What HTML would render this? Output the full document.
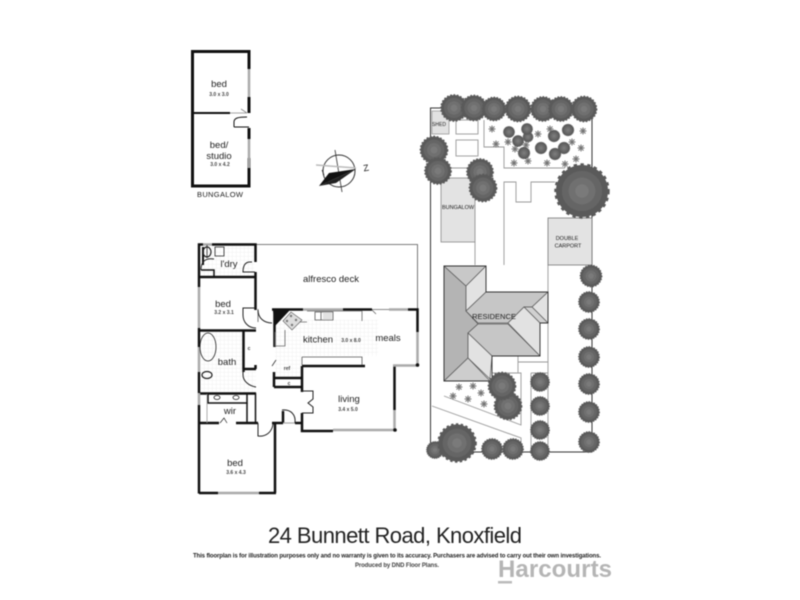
<!DOCTYPE html>
<html>
<head>
<meta charset="utf-8">
<style>
html,body{margin:0;padding:0;background:#fff;width:800px;height:600px;overflow:hidden}
svg{display:block;filter:blur(.5px)}
text{font-family:"Liberation Sans",sans-serif;fill:#222;text-anchor:middle}
.d{font-size:5px;font-weight:bold;fill:#444}
.l{font-size:9.5px}
</style>
</head>
<body>
<svg width="800" height="600" viewBox="0 0 800 600" xmlns="http://www.w3.org/2000/svg">
<defs>
<pattern id="tile" width="4" height="4" patternUnits="userSpaceOnUse"><path d="M4 0H0V4" fill="none" stroke="#ddd" stroke-width=".4"/></pattern>
<g id="t">
<circle r=".93" fill="#5a5a5a"/>
<circle r=".93" fill="none" stroke="#5a5a5a" stroke-width=".12" stroke-dasharray=".12 .12"/>
<circle r=".72" fill="#656565"/>
<circle r=".48" fill="#707070"/>
<circle r=".24" fill="#7a7a7a"/>
</g>
<path id="st" d="M-3.500 0H3.500M0-3.500V3.500M-2.500-2.500L2.500 2.500M-2.500 2.500L2.500-2.500" stroke="#777" stroke-width="1.100" fill="none"/>
</defs>

<!-- bungalow -->
<g fill="none" stroke="#111">
<path d="M249 69V51.500H192.500V186H249V158" stroke-width="3"/>
<path d="M249 97V113" stroke-width="3"/>
<path d="M249 128V139" stroke-width="3"/>
<path d="M193 113H230" stroke-width="2"/>
<path d="M249 69V97M249 139V168" stroke="#aaa" stroke-width="2.500"/>
<path d="M234 127V122C234 118 238 117 247 117" stroke-width="1"/>
<path d="M234 127H249" stroke-width="1"/>
<path d="M230 113H247M241 109L247 113" stroke="#888" stroke-width=".8"/>
<path d="M249 168V186" stroke-width="3"/>
</g>
<text class="l" x="219" y="87">bed</text>
<text class="d" x="219" y="96">3.0 x 3.0</text>
<text class="l" x="219" y="148">bed/</text>
<text class="l" x="219" y="159">studio</text>
<text class="d" x="220" y="166">3.0 x 4.2</text>
<text x="220" y="197" font-size="7.500" textLength="46">BUNGALOW</text>

<!-- compass -->
<g fill="none" stroke="#333">
<circle cx="339" cy="171" r="16" stroke-width="1"/>
<path d="M335 150L342 192" stroke-width=".8"/>
<path d="M316 165L356 168" stroke="#bbb" stroke-width="1.500"/>
<path d="M322 170L324 175" stroke-width=".8"/>
</g>
<path d="M319 186L356 169L329 173Z" fill="#111"/>
<path d="M319 186L356 169L336 183Z" fill="#222"/>
<text x="366" y="171" font-size="9" transform="rotate(-10 366 168)">Z</text>

<!-- floor plan: tiles -->
<rect x="201" y="246" width="53" height="30" fill="url(#tile)"/>
<rect x="201" y="332" width="42" height="60" fill="url(#tile)"/>
<rect x="275" y="320" width="103" height="36" fill="url(#tile)"/>
<rect x="275" y="356" width="27" height="22" fill="url(#tile)"/>
<rect x="243" y="372" width="13" height="21" fill="url(#tile)"/>

<!-- deck -->
<path d="M256 244.500H417.500V309" fill="none" stroke="#555" stroke-width=".8"/>

<g fill="none" stroke="#111" stroke-width="2.500">
<path d="M199 287V244.500H203M212 244.500H255.500V262"/>
<path d="M255.500 272V310"/>
<path d="M200 277H255"/>
<path d="M201 270H214V277" stroke-width="1.500"/>
<path d="M203 247V265" stroke-width="2"/>
<path d="M199 328V347"/>
<path d="M199 372V393M199 405V493.500"/>
<path d="M200 330.500H256"/>
<path d="M243.500 331V372"/>
<path d="M243 369H256M255.500 365V369"/>
<path d="M199 393.500H256"/>
<path d="M208 394V403H247V394" stroke-width="1.500"/>
<path d="M255.500 393V423" stroke-width="1.500"/>
<path d="M247 403V423" stroke-width="1.500"/>
<path d="M199 423H219M236 423H258M272 423H283"/>
<path d="M199 493H218M259 493H276"/>
<path d="M275 423V493"/>
<path d="M283 423V411"/>
<path d="M295 423H302"/>
<path d="M302 366V392M302 413V431H333"/>
<path d="M394.500 365V410"/>
<path d="M272 309.500H303M343 309.500H372M408 309.500H417.500V332"/>
<path d="M274.500 309V347"/>
<path d="M274 372V387"/>
<path d="M274 378H302M274 387H302M302 366H365"/>
</g>

<!-- grey windows -->
<g fill="none" stroke="#aaa" stroke-width="2.500">
<path d="M203 244.500H212"/>
<path d="M199 287V328M199 347V372M199 393V405"/>
<path d="M218 493H259"/>
<path d="M303 309.500H343M389 309.500H408"/>
<path d="M417.500 332V365.500H393"/>
<path d="M394.500 410V430H333"/>
<path d="M283 423H295" stroke-width="1.200"/>
</g>
<circle cx="395" cy="430" r="1.800" fill="#111"/>
<circle cx="417.500" cy="365" r="1.800" fill="#111"/>

<!-- thin details -->
<g fill="none" stroke="#222" stroke-width=".8">
<path d="M207 245V258M215 247H224V256H215Z"/>
<path d="M252 262H250C244 262 243 268 243 272H255" stroke-width="1"/>
<path d="M243 315V308H255" stroke-width="1"/>
<path d="M243 315C243 322 248 328 256 328" stroke-width="1"/>
<path d="M258 310C258 318 264 323 272 323" stroke-width="1"/>
<path d="M258 309V322" stroke-width=".6"/>
<path d="M201 270C201 260 207 258 214 259" stroke-width="1"/>
<path d="M243 375C243 381 249 386 256 387" stroke-width="1"/>
<path d="M243 369V375" stroke-width="1"/>
<path d="M258 423V436C266 437 272 432 273 424" stroke-width="1"/>
<path d="M282 410C291 409 296 415 295 423" stroke-width="1"/>
<path d="M302 391H313V399L308 403L313 407V413H302" stroke-width="1"/>
<path d="M220 423L224 418L227 423" stroke-width=".7"/>
<path d="M207 394V423" stroke="#999"/>
<path d="M372 309.500H389M372 310L376 314" stroke="#666"/>
<path d="M307 311H362V321M296 322H307" stroke="#666"/>
<path d="M275 332V346H285V330" stroke="#666"/>
<path d="M302 357V365M302 357H362V365" stroke="#555"/>
<path d="M276 360L272 366" stroke="#333"/>
<path d="M315 312H333V320H315ZM321 312V320" stroke="#555"/>
<path d="M323 314H332M323 316H332M323 318H332" stroke="#888" stroke-width=".5"/>
<ellipse cx="208" cy="347" rx="8" ry="14"/>
<ellipse cx="207" cy="375" rx="5" ry="3.500" stroke-width="1.200"/>
<ellipse cx="217" cy="397.500" rx="3" ry="2"/>
<ellipse cx="236" cy="397.500" rx="3" ry="2"/>
<ellipse cx="207" cy="252" rx="4" ry="5" stroke-width="1.200"/>
</g>
<!-- kitchen corner -->
<path d="M273 310H290L275 326Z" fill="#111"/>
<path d="M283 321L291 312L302 320L292 330Z" fill="#ddd" stroke="#555" stroke-width=".6"/>
<g fill="#777"><circle cx="291" cy="316" r="1.200"/><circle cx="296" cy="320" r="1.200"/><circle cx="287" cy="321" r="1.200"/><circle cx="292" cy="325" r="1.200"/></g>

<!-- floor labels -->
<text class="l" x="229" y="267">l'dry</text>
<text class="l" x="331" y="282">alfresco deck</text>
<text class="l" x="223" y="307">bed</text>
<text class="d" x="224" y="314">3.2 x 3.1</text>
<text class="l" x="318" y="342.500">kitchen</text>
<text class="d" x="351" y="342">3.0 x 8.0</text>
<text class="l" x="388" y="341">meals</text>
<text class="l" x="227" y="365">bath</text>
<text class="d" x="249" y="350">c</text>
<text class="d" x="287" y="370">ref</text>
<text class="d" x="289" y="385">c</text>
<text class="l" x="230" y="414">wir</text>
<text class="l" x="349" y="402">living</text>
<text class="d" x="348" y="411">3.4 x 5.0</text>
<text class="l" x="235" y="466">bed</text>
<text class="d" x="236" y="474">3.6 x 4.3</text>

<!-- site -->
<path d="M430.500 452V108H592V452H430.500" fill="none" stroke="#333" stroke-width="1"/>
<rect x="432" y="111" width="17" height="23" fill="#e2e2e2" stroke="#999" stroke-width=".8"/>
<g fill="none" stroke="#999" stroke-width=".9">
<rect x="456" y="120" width="22" height="14"/>
<rect x="456" y="140" width="22" height="16"/>
<path d="M484 120V147H504V168H565"/>
<path d="M451 168H468"/>
<path d="M475 242V265M504 265V182H516V202H531V182H555"/>
<path d="M548 265V452"/>
<path d="M492 356V373M518 356V373M518 362H548"/>
<path d="M492 373H521V425L444 396"/>
<path d="M432 406L521 438V452"/>
<path d="M531 373H548M531 373V452"/>
</g>
<rect x="441" y="178" width="34" height="64" fill="#e3e3e3" stroke="#888" stroke-width=".8"/>
<rect x="548" y="218" width="44" height="47" fill="#e3e3e3" stroke="#777" stroke-width=".8"/>

<!-- roof -->
<g stroke="#555" stroke-width=".7" stroke-linejoin="round">
<path d="M444 266L466 286V311L478 324L468 333V358L444 381Z" fill="#b4b4b4"/>
<path d="M444 266H486L466 286Z" fill="#c8c8c8"/>
<path d="M486 266V292L466 311V286Z" fill="#e2e2e2"/>
<path d="M486 292H548L532 307H524L508 323H478L466 311Z" fill="#c6c6c6"/>
<path d="M548 292V323L532 307Z" fill="#e2e2e2"/>
<path d="M532 307H524L540 323H548Z" fill="#d0d0d0"/>
<path d="M508 323L524 307L540 323V356Z" fill="#e2e2e2"/>
<path d="M468 333L478 324H508L540 356H492Z" fill="#c6c6c6"/>
<path d="M468 333V358L490 379L492 356Z" fill="#e2e2e2"/>
<path d="M444 381L468 358L490 381Z" fill="#cdcdcd"/>
</g>
<path d="M444 266H486V292H548V323H540V356H492V381H444Z" fill="none" stroke="#333" stroke-width=".9"/>

<!-- stars -->
<use href="#st" x="492" y="129"/><use href="#st" x="496" y="144"/><use href="#st" x="508" y="142"/>
<use href="#st" x="515" y="149"/><use href="#st" x="514" y="163"/><use href="#st" x="528" y="161"/>
<use href="#st" x="526" y="145"/><use href="#st" x="538" y="134"/><use href="#st" x="547" y="163"/>
<use href="#st" x="550" y="129"/><use href="#st" x="565" y="164"/><use href="#st" x="576" y="159"/>
<use href="#st" x="572" y="142"/><use href="#st" x="581" y="148"/><use href="#st" x="583" y="131"/>
<use href="#st" x="459" y="387"/><use href="#st" x="473" y="386"/><use href="#st" x="453" y="396"/>
<use href="#st" x="481" y="393"/><use href="#st" x="468" y="399"/><use href="#st" x="484" y="404"/>

<!-- trees -->
<use href="#t" transform="translate(454 108) scale(14)"/>
<use href="#t" transform="translate(474 108) scale(13.500)"/>
<use href="#t" transform="translate(494 109) scale(12.500)"/>
<use href="#t" transform="translate(518 109) scale(13.500)"/>
<use href="#t" transform="translate(543 109) scale(13)"/>
<use href="#t" transform="translate(561 109) scale(13)"/>
<use href="#t" transform="translate(584 109) scale(13.500)"/>
<use href="#t" transform="translate(434 150) scale(14.500)"/>
<use href="#t" transform="translate(438 171) scale(14)"/>
<use href="#t" transform="translate(480 172) scale(14)"/>
<use href="#t" transform="translate(483 188) scale(14.500)"/>
<use href="#t" transform="translate(582 191) scale(28)"/>
<use href="#t" transform="translate(509 132) scale(6)"/>
<use href="#t" transform="translate(528 137) scale(5.500)"/>
<use href="#t" transform="translate(527 129) scale(6)"/>
<use href="#t" transform="translate(518 141) scale(6)"/>
<use href="#t" transform="translate(524 153) scale(6.300)"/>
<use href="#t" transform="translate(541 148) scale(6.300)"/>
<use href="#t" transform="translate(554 136) scale(6.300)"/>
<use href="#t" transform="translate(568 130) scale(6.300)"/>
<use href="#t" transform="translate(564 148) scale(6.300)"/>
<use href="#t" transform="translate(555 154) scale(6.300)"/>
<use href="#t" transform="translate(591 276) scale(11.500)"/>
<use href="#t" transform="translate(589 302) scale(11)"/>
<use href="#t" transform="translate(589 329) scale(11)"/>
<use href="#t" transform="translate(589 357) scale(11)"/>
<use href="#t" transform="translate(589 384) scale(11)"/>
<use href="#t" transform="translate(589 412) scale(11)"/>
<use href="#t" transform="translate(589 442) scale(11)"/>
<use href="#t" transform="translate(508 406) scale(14.500)"/>
<use href="#t" transform="translate(502 386) scale(14.500)"/>
<use href="#t" transform="translate(540 382) scale(10)"/>
<use href="#t" transform="translate(540 406) scale(10)"/>
<use href="#t" transform="translate(540 430) scale(10)"/>
<use href="#t" transform="translate(540 451) scale(10)"/>
<use href="#t" transform="translate(435 450) scale(9)"/>
<use href="#t" transform="translate(457 443) scale(20)"/>
<use href="#t" transform="translate(492 449) scale(11)"/>
<use href="#t" transform="translate(513 449) scale(11)"/>

<!-- site labels -->
<text x="439" y="126" font-size="5">SHED</text>
<text x="458" y="209" font-size="5.500">BUNGALOW</text>
<text x="567" y="240" font-size="5.500">DOUBLE</text>
<text x="568" y="247.500" font-size="5.500">CARPORT</text>
<text x="494" y="319" font-size="7.500">RESIDENCE</text>

<!-- footer -->
<text x="395" y="543" font-size="22" textLength="254">24 Bunnett Road, Knoxfield</text>
<text x="397" y="557.500" font-size="6" font-weight="bold" textLength="408">This floorplan is for illustration purposes only and no warranty is given to its accuracy. Purchasers are advised to carry out their own investigations.</text>
<text x="397" y="567" font-size="6" font-weight="bold" textLength="84" style="fill:#444">Produced by DND Floor Plans.</text>
<text x="555" y="577" font-size="24" font-weight="bold" textLength="114" style="fill:#b5b5b5">Harcourts</text>
<rect x="498" y="581" width="14" height="2.500" fill="#bbb"/>
</svg>
</body>
</html>
